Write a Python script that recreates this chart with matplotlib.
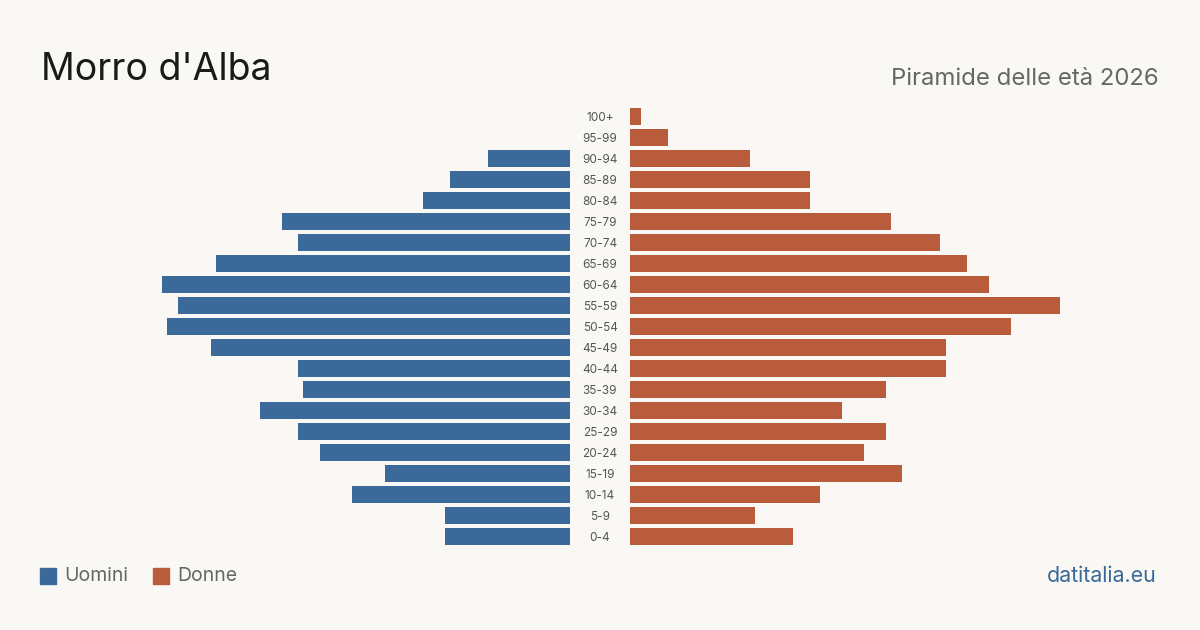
import matplotlib
matplotlib.use("Agg")
import matplotlib.pyplot as plt
import matplotlib.transforms as mtransforms
from matplotlib.patches import Rectangle

plt.rcParams['font.family'] = ['Inter', 'DejaVu Sans']

age_groups = ["0-4", "5-9", "10-14", "15-19", "20-24", "25-29", "30-34", "35-39",
              "40-44", "45-49", "50-54", "55-59", "60-64", "65-69", "70-74",
              "75-79", "80-84", "85-89", "90-94", "95-99", "100+"]
uomini = [23, 23, 40, 34, 46, 50, 57, 49, 50, 66, 74, 72, 75, 65, 50, 53, 27, 22, 15, 0, 0]
donne = [30, 23, 35, 50, 43, 47, 39, 47, 58, 58, 70, 79, 66, 62, 57, 48, 33, 33, 22, 7, 2]

BG = "#f9f8f4"
BLUE = "#3b6a9a"
ORANGE = "#b95c3c"

W, H = 1200, 630
fig = plt.figure(figsize=(12, 6.3), dpi=100, facecolor=BG)

def px_axes(x0, y_top, w, h):
    return fig.add_axes([x0 / W, 1 - (y_top + h) / H, w / W, h / H])

unit = 5.44  # pixels per person
aw = 440
xmax = aw / unit
top, bottom = 106, 547

ax_l = px_axes(570 - aw, top, aw, bottom - top)
ax_r = px_axes(630, top, aw, bottom - top)

ys = list(range(len(age_groups)))
ax_l.barh(ys, uomini, height=0.81, color=BLUE)
ax_r.barh(ys, donne, height=0.81, color=ORANGE)
ax_l.set_xlim(xmax, 0)
ax_r.set_xlim(0, xmax)
for ax in (ax_l, ax_r):
    ax.set_ylim(-0.5, len(age_groups) - 0.5)
    ax.axis("off")
    ax.set_facecolor("none")

tr = mtransforms.blended_transform_factory(fig.transFigure, ax_r.transData)
for y, lab in zip(ys, age_groups):
    fig.text(600 / W, y - 0.05, lab, transform=tr, ha="center", va="center",
             fontsize=8.5, color="#555555")

fig.text(41 / W, 1 - 80 / H, "Morro d'Alba", fontsize=27, color="#1a1a1a",
         ha="left", va="baseline")
fig.text(1159 / W, 1 - 85 / H, "Piramide delle età 2026", fontsize=17.2,
         color="#666666", ha="right", va="baseline")

# legend
fig.patches.append(Rectangle((40 / W, 1 - 584 / H), 16 / W, 16 / H,
                             transform=fig.transFigure, color=BLUE))
fig.text(64 / W, 1 - 576 / H, "Uomini", fontsize=14, color="#666666",
         ha="left", va="center")
fig.patches.append(Rectangle((153 / W, 1 - 584 / H), 16 / W, 16 / H,
                             transform=fig.transFigure, color=ORANGE))
fig.text(177 / W, 1 - 576 / H, "Donne", fontsize=14, color="#666666",
         ha="left", va="center")

fig.text(1157 / W, 1 - 576 / H, "datitalia.eu", fontsize=15.4, color=BLUE,
         ha="right", va="center")

fig.savefig("out.png", dpi=100, facecolor=BG)
